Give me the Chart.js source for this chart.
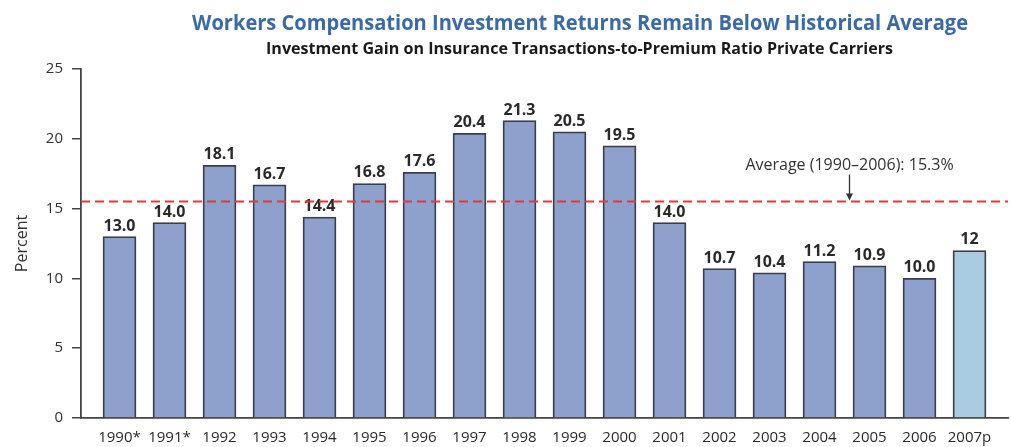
<!DOCTYPE html>
<html>
<head>
<meta charset="utf-8">
<script src="https://cdn.jsdelivr.net/npm/chart.js@4.4.1/dist/chart.umd.min.js"></script>
<style>
  html, body { margin: 0; padding: 0; background: #ffffff; }
  #wrap { width: 1011px; height: 447px; position: relative; }
</style>
</head>
<body>
<div id="wrap"><canvas id="c"></canvas></div>
<script>
// ---- data ----
const years = ['1990*', '1991*', '1992', '1993', '1994', '1995', '1996', '1997', '1998', '1999', '2000', '2001', '2002', '2003', '2004', '2005', '2006', '2007p'];
const values = [13.0, 14.0, 18.1, 16.7, 14.4, 16.8, 17.6, 20.4, 21.3, 20.5, 19.5, 14.0, 10.7, 10.4, 11.2, 10.9, 10.0, 12];
const valueLabels = ['13.0', '14.0', '18.1', '16.7', '14.4', '16.8', '17.6', '20.4', '21.3', '20.5', '19.5', '14.0', '10.7', '10.4', '11.2', '10.9', '10.0', '12'];
const yTicks = [0, 5, 10, 15, 20, 25];
const averageValue = 15.5;           // where the dashed line is drawn in the picture
const averageLabel = 'Average (1990–2006): 15.3%';
const averageLabelAt = 14.6;         // category position of the arrow/label
const titleText = 'Workers Compensation Investment Returns Remain Below Historical Average';
const subtitleText = 'Investment Gain on Insurance Transactions-to-Premium Ratio Private Carriers';
const yTitle = 'Percent';

// ---- styles ----
const barBlue = '#8ea1cd';
const barLight = '#a9cce3';
const barEdge = '#3a3d4a';
const axisColor = '#444444';
const textColor = '#2a2a2a';

Chart.defaults.font.family = "'Open Sans', 'DejaVu Sans', sans-serif";

function drawFitted(ctx, text, cx, y, font, color, targetW) {
  ctx.save();
  ctx.font = font;
  const w = ctx.measureText(text).width;
  const s = targetW / w;
  ctx.translate(cx, y);
  ctx.scale(s, 1);
  ctx.fillStyle = color;
  ctx.textAlign = 'center';
  ctx.textBaseline = 'alphabetic';
  ctx.fillText(text, 0, 0);
  ctx.restore();
}

const overlay = {
  id: 'overlay',
  afterDatasetsDraw(chart) {
    const ctx = chart.ctx;
    const xs = chart.scales.x, ys = chart.scales.y;
    const area = chart.chartArea;

    // value labels
    const meta = chart.getDatasetMeta(0);
    ctx.save();
    ctx.font = "bold 16px 'Open Sans', sans-serif";
    ctx.fillStyle = textColor;
    ctx.textAlign = 'center';
    ctx.textBaseline = 'alphabetic';
    meta.data.forEach((el, i) => {
      ctx.fillText(valueLabels[i], el.x, el.y - 6);
    });
    ctx.restore();

    // average dashed line
    const yAvg = ys.getPixelForValue(averageValue);
    ctx.save();
    ctx.strokeStyle = '#de3b3b';
    ctx.lineWidth = 2;
    ctx.setLineDash([9, 5]);
    ctx.beginPath();
    ctx.moveTo(area.left, yAvg);
    ctx.lineTo(area.right, yAvg);
    ctx.stroke();
    ctx.restore();

    // annotation with arrow
    const ax = xs.getPixelForValue(averageLabelAt);
    ctx.save();
    ctx.fillStyle = '#333333';
    ctx.strokeStyle = '#333333';
    ctx.font = "16px 'Open Sans', sans-serif";
    ctx.textAlign = 'center';
    ctx.textBaseline = 'alphabetic';
    ctx.fillText(averageLabel, ax, yAvg - 32);
    ctx.lineWidth = 1.3;
    ctx.beginPath();
    ctx.moveTo(ax, yAvg - 27);
    ctx.lineTo(ax, yAvg - 6);
    ctx.stroke();
    ctx.beginPath();
    ctx.moveTo(ax - 3.5, yAvg - 8);
    ctx.lineTo(ax + 3.5, yAvg - 8);
    ctx.lineTo(ax, yAvg - 1);
    ctx.closePath();
    ctx.fill();
    ctx.restore();
  },
  afterDraw(chart) {
    const ctx = chart.ctx;
    drawFitted(ctx, titleText, 580, 30, "bold 22px 'Open Sans', sans-serif", '#3b6aa6', 776);
    drawFitted(ctx, subtitleText, 579.5, 54, "bold 16px 'Open Sans', sans-serif", '#1a1a1a', 627);
  }
};

new Chart(document.getElementById('c'), {
  type: 'bar',
  data: {
    datasets: [{
      data: values.map((v, i) => ({ x: i, y: v })),
      backgroundColor: years.map(y => y.endsWith('p') ? barLight : barBlue),
      borderColor: barEdge,
      borderWidth: 1.8,
      borderSkipped: 'bottom',
      barThickness: 33
    }]
  },
  options: {
    responsive: true,
    maintainAspectRatio: false,
    animation: false,
    layout: { padding: { top: 69, right: 3, left: 8, bottom: 0 } },
    plugins: {
      legend: { display: false },
      tooltip: { enabled: false },
      title: { display: false }
    },
    scales: {
      x: {
        type: 'linear',
        offset: false,
        min: -0.77,
        max: years.length - 1 + 0.77,
        grid: { display: false },
        border: { display: true, color: axisColor, width: 1.8 },
        afterBuildTicks(scale) { scale.ticks = years.map((_, i) => ({ value: i })); },
        afterFit(scale) { scale.height = 29; },
        ticks: {
          autoSkip: false,
          maxRotation: 0,
          padding: 3,
          color: textColor,
          font: { size: 15 },
          callback: (v) => years[v]
        }
      },
      y: {
        min: 0,
        max: 25,
        afterBuildTicks(scale) { scale.ticks = yTicks.map(v => ({ value: v })); },
        afterFit(scale) { scale.width = 73; },
        grid: { display: true, drawOnChartArea: false, drawTicks: true, tickLength: 9, color: axisColor, lineWidth: 1.5 },
        border: { display: true, color: axisColor, width: 1.8 },
        ticks: { padding: 9, color: '#333333', font: { size: 15 } },
        title: { display: true, text: yTitle, color: '#333333', font: { size: 16 }, padding: { top: 5, bottom: 0 } }
      }
    }
  },
  plugins: [overlay]
});
</script>
</body>
</html>
